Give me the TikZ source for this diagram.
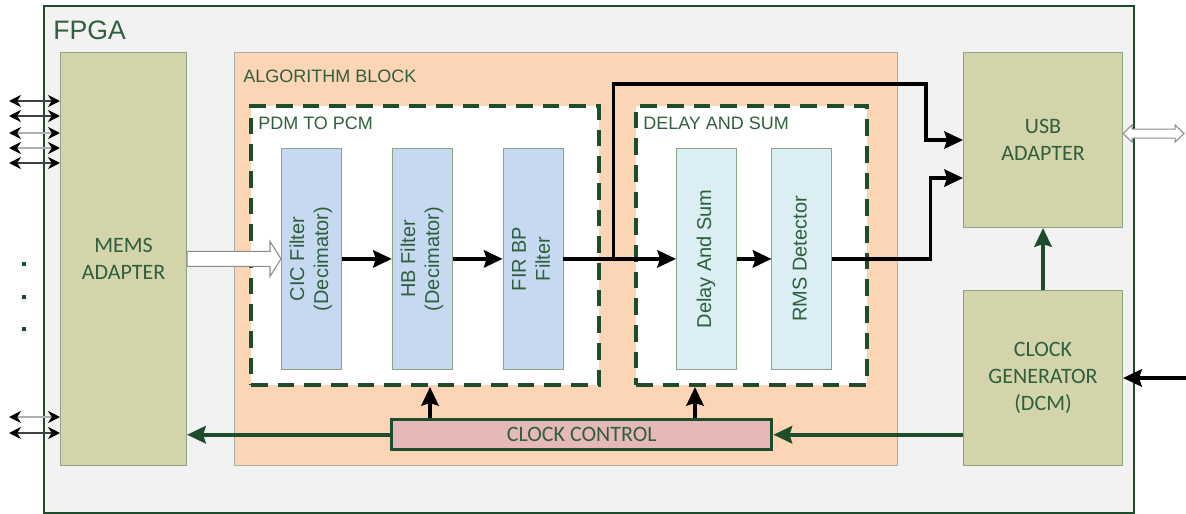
\documentclass[tikz,border=0pt]{standalone}
\usepackage{fontspec}
\setmainfont{Liberation Sans}
\newfontfamily\calfont{Carlito}
\usepackage{graphicx}
\usepackage{xcolor}
\definecolor{fpgagray}{HTML}{F2F2F2}
\definecolor{pine}{HTML}{1E4D2B}
\definecolor{leaf}{HTML}{2F5F3C}
\definecolor{olive}{HTML}{D4D4AB}
\definecolor{oliveline}{HTML}{8CA582}
\definecolor{peach}{HTML}{FBD5B5}
\definecolor{peachline}{HTML}{A9B0A0}
\definecolor{filtblue}{HTML}{C6D9F0}
\definecolor{dsblue}{HTML}{DBEEF3}
\definecolor{rose}{HTML}{E6B9B8}
\definecolor{wire}{HTML}{8C8C8C}
\usetikzlibrary{positioning,arrows.meta,calc}
\newcommand{\vlbl}[1]{\rotatebox{90}{\begin{tabular}{@{}c@{}}#1\end{tabular}}}
\tikzset{
  >={Stealth[length=14pt,width=13pt,inset=2pt]},
  fpga/.style={draw=pine,fill=fpgagray,line width=1.6pt,anchor=north west,inner sep=0pt},
  adapter/.style={draw=oliveline,fill=olive,line width=0.8pt,anchor=north west,align=center,
    font=\calfont\fontsize{16.5}{20}\selectfont,text=leaf,minimum width=119.25pt},
  algo/.style={draw=peachline,fill=peach,line width=0.8pt,anchor=north west,inner sep=0pt},
  stage/.style={draw=pine,fill=white,dash pattern=on 12.5pt off 7.5pt,line width=3pt,
    anchor=north west,inner sep=0pt,minimum height=209.25pt},
  filt/.style={draw=oliveline,fill=filtblue,line width=0.6pt,minimum width=45pt,
    minimum height=165.75pt,font=\fontsize{15}{18}\selectfont,text=leaf,inner sep=0pt},
  dsf/.style={filt,fill=dsblue},
  ctrlbox/.style={draw=pine,fill=rose,line width=2.6pt,anchor=north west,minimum width=285pt,
    minimum height=22.5pt,font=\calfont\fontsize{16.5}{20}\selectfont,text=leaf,inner sep=0pt},
  sect/.style={font=\fontsize{13.5}{16}\selectfont,text=leaf,anchor=base west,inner sep=0pt},
  flow/.style={->,draw=black,line width=2.6pt},
  gflow/.style={->,draw=pine,line width=3.2pt},
  bidir/.style={{Stealth[length=9pt,width=9pt,color=black]}-{Stealth[length=9pt,width=9pt,color=black]},
    line width=1.6pt},
  hollow/.style={draw=wire,fill=white,line width=0.8pt,line join=miter},
}

\begin{document}
\begin{tikzpicture}[x=0.75pt,y=-0.75pt]
  \useasboundingbox (0,0) rectangle (1186,514);
  % chip outline and the big blocks
  \node[fpga,minimum width=817.5pt,minimum height=380.25pt] (fpga) at (43,5) {};
  \node[anchor=base west,font=\fontsize{20}{24}\selectfont,text=leaf,inner sep=0pt] (fpgalbl)
    at ($(fpga.north west)+(10,34)$) {FPGA};
  \node[adapter,minimum width=94.5pt,minimum height=309.75pt] (mems) at (60,52) {MEMS\\ADAPTER};
  \node[algo,minimum width=497.25pt,minimum height=309.75pt] (algo) at (234,52) {};
  \node[sect] (algolbl) at ($(algo.north west)+(9,30)$) {ALGORITHM BLOCK};
  \node[adapter,minimum height=131.25pt] (usb) at (963,52) {USB\\ADAPTER};
  \node[adapter,minimum height=131.25pt] (clkgen) at (963,290) {CLOCK\\GENERATOR\\(DCM)};

  % the two processing stages
  \node[stage,minimum width=261pt] (pdm) at (249,104) {};
  \node[sect] (pdmlbl) at ($(pdm.north west)+(9,25)$) {PDM TO PCM};
  \node[stage,minimum width=173.25pt] (dsb) at (634,104) {};
  \node[sect] (dsblbl) at ($(dsb.north west)+(9,25)$) {DELAY AND SUM};

  \node[filt,anchor=north west] (cic) at (281,148) {\vlbl{CIC Filter\\(Decimator)}};
  \node[filt,right=37.5pt of cic] (hb) {\vlbl{HB Filter\\(Decimator)}};
  \node[filt,right=37.5pt of hb] (fir) {\vlbl{FIR BP\\Filter}};
  \node[dsf,anchor=north west] (dly) at (676,148) {\vlbl{Delay And Sum}};
  \node[dsf,right=26pt of dly] (rms) {\vlbl{RMS Detector}};

  \node[ctrlbox] (ctrl) at (390,418) {CLOCK CONTROL};

  % PDM stream into the first filter
  \coordinate (pin) at (mems.east |- cic.west);
  \draw[hollow] ($(pin)+(0,-7.5)$) -- ($(cic.west)+(-11,-7.5)$) -- ($(cic.west)+(-11,-17.5)$)
    -- (cic.west) -- ($(cic.west)+(-11,17.5)$) -- ($(cic.west)+(-11,7.5)$) -- ($(pin)+(0,7.5)$) -- cycle;

  % data path
  \draw[flow] (cic) -- (hb);
  \draw[flow] (hb) -- (fir);
  \draw[flow] (fir.east) -- (dly.west);
  \draw[flow] (dly) -- (rms);
  \coordinate (split) at ($(fir.east)+(50,0)$);
  \draw[flow] (split) -- ++(0,-175) -| ($(usb.west)+(-37,0)$) -- (usb.west);
  \draw[flow] (rms.east) -- ++(98,0) |- ($(usb.west)+(0,38)$);

  % USB link out
  \coordinate (uout) at ($(usb.east)+(0,-6.5)$);
  \draw[hollow] (uout) -- ++(9,-8.5) -- ++(0,4) -- ++(43,0) -- ++(0,-4) -- ++(9,8.5)
    -- ++(-9,8.5) -- ++(0,-4) -- ++(-43,0) -- ++(0,4) -- cycle;

  % clocking
  \coordinate (clkin) at (1186,378);
  \draw[flow] (clkin) -- (clkin -| clkgen.east);
  \draw[gflow] (clkgen.north) -- (usb.south);
  \draw[gflow] (clkgen.west |- ctrl.east) -- (ctrl.east);
  \draw[gflow] (ctrl.west) -- (ctrl.west -| mems.east);
  \draw[flow] ($(ctrl.north west)+(40,0)$) coordinate (ckA) -- (ckA |- pdm.south);
  \draw[flow] ($(ctrl.north west)+(305,0)$) coordinate (ckB) -- (ckB |- dsb.south);

  % microphone lines
  \foreach \y/\c [count=\i] in {101/black!75,116/black!75,133/wire!70,148/wire!70,163/black!75,417/wire!70,433/black!75} {
    \coordinate (mic\i) at (9,\y);
    \draw[bidir,draw=\c] (mic\i) -- (mic\i -| mems.west);
  }
  \foreach \y in {264,297,329}
    \fill[pine] (22,\y-2) rectangle ++(4,4);
\end{tikzpicture}
\end{document}
